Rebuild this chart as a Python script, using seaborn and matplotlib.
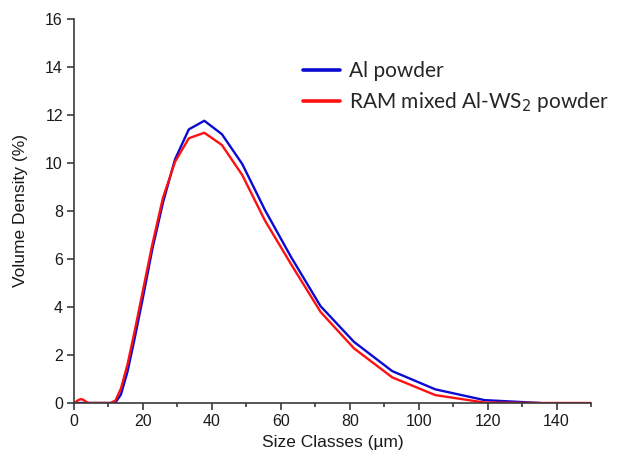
import matplotlib
matplotlib.use("Agg")
import matplotlib.pyplot as plt
from matplotlib.ticker import MultipleLocator
import pandas as pd
import seaborn as sns

# Size classes (µm) and volume density (%) for each powder
al_sizes = [0.4, 10.6, 12.0, 13.6, 15.5, 17.6, 20.0, 22.7, 25.8, 29.3, 33.3, 37.8,
            42.9, 48.8, 55.4, 62.9, 71.5, 81.2, 92.3, 104.8, 119.1, 135.3]
al_density = [0.0, 0.0, 0.02, 0.35, 1.3, 2.7, 4.4, 6.4, 8.35, 10.15, 11.4, 11.76,
              11.2, 9.96, 8.04, 6.1, 4.04, 2.55, 1.33, 0.57, 0.12, 0.0]

ram_sizes = [0.0, 0.5, 0.9, 1.5, 2.0, 2.6, 3.3, 4.2, 10.6, 12.0, 13.6, 15.5, 17.6,
             20.0, 22.7, 25.8, 29.3, 33.3, 37.8, 42.9, 48.8, 55.4, 62.9, 71.5,
             81.2, 92.3, 104.8, 119.1, 135.3, 150.0]
ram_density = [0.0, 0.04, 0.09, 0.14, 0.16, 0.14, 0.07, 0.0, 0.0, 0.1, 0.6, 1.6, 3.0,
               4.7, 6.6, 8.55, 10.05, 11.03, 11.26, 10.75, 9.5, 7.6, 5.8, 3.8,
               2.28, 1.07, 0.33, 0.02, 0.0, 0.0]

labels = ["Al powder", "RAM mixed Al-WS$_2$ powder"]
colors = {labels[0]: "#0a0ad2", labels[1]: "#ff1010"}

df = pd.concat([
    pd.DataFrame({"size": al_sizes, "density": al_density, "sample": labels[0]}),
    pd.DataFrame({"size": ram_sizes, "density": ram_density, "sample": labels[1]}),
], ignore_index=True)

sns.set_theme(style="ticks")
plt.rcParams["font.family"] = ["Liberation Sans", "DejaVu Sans"]

fig = plt.figure(figsize=(6.19, 4.62), dpi=100)
ax = fig.add_axes([0.1196, 0.1277, 0.8352, 0.8312])

sns.lineplot(data=df, x="size", y="density", hue="sample", palette=colors,
             estimator=None, sort=False, linewidth=1.7, ax=ax)

ax.set_xlim(0, 150)
ax.set_ylim(0, 16)
ax.xaxis.set_major_locator(MultipleLocator(20))
ax.xaxis.set_minor_locator(MultipleLocator(10))
ax.yaxis.set_major_locator(MultipleLocator(2))

spine_color = "#3a3a3a"
for side in ("top", "right"):
    ax.spines[side].set_visible(False)
for side in ("left", "bottom"):
    ax.spines[side].set_color(spine_color)
    ax.spines[side].set_linewidth(1.2)

ax.tick_params(axis="both", which="major", direction="out", length=5, width=1.2,
               color=spine_color, labelsize=11.5, labelcolor="#1a1a1a", pad=3)
ax.tick_params(axis="x", which="minor", direction="out", length=3, width=1.2,
               color=spine_color)

ax.set_xlabel("Size Classes (µm)", fontsize=12.5, color="#1a1a1a", labelpad=4)
ax.set_ylabel("Volume Density (%)", fontsize=12.5, color="#1a1a1a", labelpad=12)

handles, _ = ax.get_legend_handles_labels()
leg = ax.legend(handles=handles, labels=labels, loc="upper left",
                bbox_to_anchor=(0.422, 0.918), frameon=False, borderpad=0,
                handlelength=1.8, handletextpad=0.45, labelspacing=0.45,
                prop={"family": ["Lato", "DejaVu Sans"], "size": 15})
for line in leg.get_lines():
    line.set_linewidth(2.6)

fig.savefig("out.png", dpi=100)
